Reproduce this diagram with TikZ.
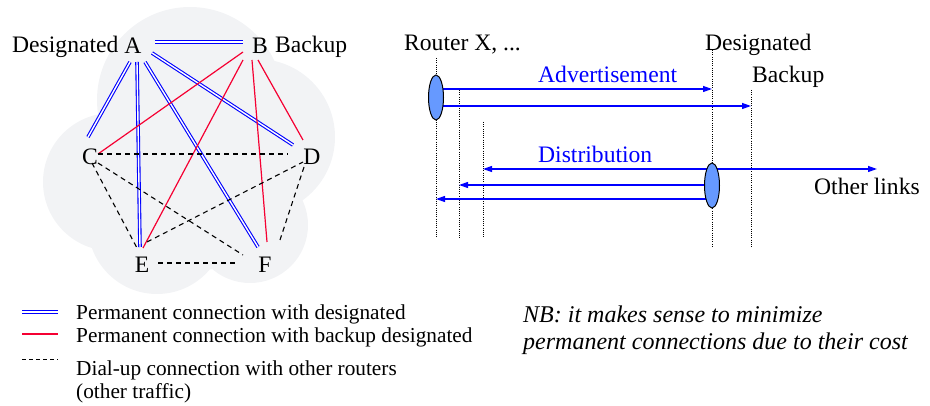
\documentclass[tikz,border=0pt]{standalone}
\usepackage{fontspec}
\setmainfont{Liberation Serif}
\usetikzlibrary{arrows.meta,shapes.geometric,backgrounds}
\definecolor{cloudgray}{RGB}{242,243,245}
\definecolor{lnblue}{RGB}{0,0,255}
\definecolor{lnred}{RGB}{245,0,50}
\definecolor{ellblue}{RGB}{102,153,255}
\begin{document}
\begin{tikzpicture}[x=1pt,y=-1pt,
  lbl/.style={inner sep=0pt, font=\fontsize{23.6}{28}\selectfont},
  leg/.style={inner sep=0pt, anchor=base west, font=\fontsize{21.3}{25}\selectfont},
  nb/.style={inner sep=0pt, anchor=base west, font=\fontsize{24}{28}\selectfont\itshape},
  dbl/.style={draw=lnblue, line width=1.1pt, double=white, double distance=1.4pt},
  rd/.style={draw=lnred, line width=1.2pt},
  dsh/.style={draw=black, line width=1.1pt, dash pattern=on 5pt off 4pt},
  dotv/.style={draw=black, line width=0.7pt, dash pattern=on 0.9pt off 1.3pt},
  arr/.style={draw=lnblue, line width=1.2pt, -{Triangle[length=9pt,width=6pt]}},
  ell/.style={ellipse, draw=black, fill=ellblue, line width=1pt, minimum width=15pt, minimum height=45pt, inner sep=0pt}]
\useasboundingbox (0,0) rectangle (930,406);
% cloud
\fill[cloudgray] (190,100) circle[radius=93] (257,137) circle[radius=78]
  (250,225) circle[radius=58] (157,225) circle[radius=69]
  (112,182) circle[radius=69] (200,180) circle[radius=90];
% left graph nodes
\node[lbl] (A) at (133,46) {A};
\node[lbl] (B) at (260,46) {B};
\node[lbl] (C) at (90,157) {C};
\node[lbl] (D) at (312,157) {D};
\node[lbl] (E) at (142,265) {E};
\node[lbl] (F) at (265,265) {F};
\node[lbl, anchor=base west] (desL) at (12,53) {Designated};
\node[lbl, anchor=base west] (bakL) at (275,53) {Backup};
% blue double
\draw[dbl] ([shift={(22,-4)}]A.center) -- ([shift={(-17,-4)}]B.center);
\draw[dbl] ([shift={(-3,16)}]A.center) -- ([shift={(-2,-20)}]C.center);
\draw[dbl] ([shift={(4,16)}]A.center) -- ([shift={(-2,-18)}]E.center);
\draw[dbl] ([shift={(12,16)}]A.center) -- ([shift={(-7,-18)}]F.center);
\draw[dbl] ([shift={(19,7)}]A.center) -- ([shift={(-19,-12)}]D.center);
% red
\draw[rd] ([shift={(-17,6)}]B.center) -- ([shift={(8,-3)}]C.center);
\draw[rd] ([shift={(-17,14)}]B.center) -- ([shift={(1,-17)}]E.center);
\draw[rd] ([shift={(-8,14)}]B.center) -- ([shift={(2,-23)}]F.center);
\draw[rd] ([shift={(-2,14)}]B.center) -- ([shift={(-9,-17)}]D.center);
% dashed
\draw[dsh] ([shift={(8,-3)}]C.center) -- ([shift={(-24,-3)}]D.center);
\draw[dsh] ([shift={(2,6)}]C.center) -- ([shift={(-5,-17)}]E.center);
\draw[dsh] ([shift={(8,6)}]C.center) -- ([shift={(-22,-10)}]F.center);
\draw[dsh] ([shift={(5,-23)}]E.center) -- ([shift={(-9,5)}]D.center);
\draw[dsh] ([shift={(-8,10)}]D.center) -- ([shift={(15,-25)}]F.center);
\draw[dsh] ([shift={(16,-2)}]E.center) -- ([shift={(-27,-2)}]F.center);
% legend
\coordinate (l1a) at (22,312); \coordinate (l1b) at (58,312);
\coordinate (l2a) at (22,334); \coordinate (l2b) at (58,334);
\coordinate (l3a) at (22,360); \coordinate (l3b) at (58,360);
\draw[dbl] (l1a) -- (l1b);
\draw[rd] (l2a) -- (l2b);
\draw[draw=black, line width=1pt, dash pattern=on 4pt off 3pt] (l3a) -- (l3b);
\node[leg] (t1) at (76,320) {Permanent connection with designated};
\node[leg] (t2) at (76,343) {Permanent connection with backup designated};
\node[leg] (t3) at (76,376) {Dial-up connection with other routers};
\node[leg] (t4) at (76,399) {(other traffic)};
% NB
\node[nb] (nb1) at (523,323) {NB: it makes sense to minimize};
\node[nb] (nb2) at (523,350) {permanent connections due to their cost};
% right diagram
\node[lbl, anchor=base west] (rx) at (404,51) {Router X, ...};
\node[lbl, anchor=base west] (dg) at (705,51) {Designated};
\node[lbl, anchor=base west, text=lnblue] (adv) at (538,83) {Advertisement};
\node[lbl, anchor=base west] (bk) at (752,83) {Backup};
\node[lbl, anchor=base west, text=lnblue] (dist) at (538,163) {Distribution};
\node[lbl, anchor=base west] (ol) at (814,195) {Other links};
\coordinate (v1t) at (436,58);  \coordinate (v1b) at (436,238);
\coordinate (v2t) at (459,90);  \coordinate (v2b) at (459,238);
\coordinate (v3t) at (483,122); \coordinate (v3b) at (483,238);
\coordinate (v4t) at (712,50);  \coordinate (v4b) at (712,247);
\coordinate (v5t) at (751,90);  \coordinate (v5b) at (751,247);
\node[ell] (e1) at (436,97.5) {};
\node[ell] (e2) at (712,185.5) {};
\coordinate (a1) at ([shift={(0,-8.5)}]e1.center);
\coordinate (a2) at ([shift={(0,8.5)}]e1.center);
\coordinate (d1) at ([shift={(0,-16.5)}]e2.center);
\coordinate (d2) at ([shift={(0,-0.5)}]e2.center);
\coordinate (d3) at ([shift={(0,13.5)}]e2.center);
\coordinate (olend) at (877,169);
\begin{scope}[on background layer]
\draw[dotv] (v1t) -- (v1b);
\draw[dotv] (v2t) -- (v2b);
\draw[dotv] (v3t) -- (v3b);
\draw[dotv] (v4t) -- (v4b);
\draw[dotv] (v5t) -- (v5b);
\draw[arr] (a1) -- (a1 -| v4t);
\draw[arr] (a2) -- (a2 -| v5t);
\draw[arr] (d1) -- (d1 -| v3t);
\draw[arr] (d1) -- (olend);
\draw[arr] (d2) -- (d2 -| v2t);
\draw[arr] (d3) -- (d3 -| v1t);
\end{scope}
\end{tikzpicture}
\end{document}
